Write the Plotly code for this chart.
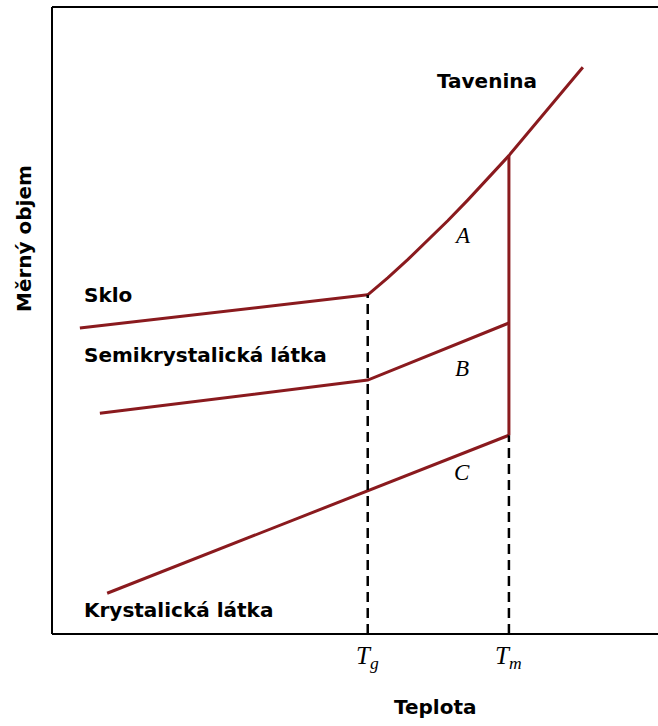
import plotly.graph_objects as go

# Specific volume vs. temperature for glass, semicrystalline and crystalline states
T_g = 52.1
T_m = 75.4

glass_T = [4.6, 52.1]
glass_V = [48.8, 54.1]

semi_T = [7.9, 52.1, 75.4]
semi_V = [35.2, 40.5, 49.6]

cryst_T = [9.1, 75.4]
cryst_V = [6.5, 31.7]

# supercooled liquid between Tg and Tm, then the melt above Tm
melt_T = [52.1, 55.4, 58.7, 62.0, 65.3, 68.6, 71.9, 75.4, 87.6]
melt_V = [54.1, 56.8, 59.7, 62.8, 65.9, 69.2, 72.6, 76.3, 90.4]

RED = "#8a1a1e"
LW = 3

fig = go.Figure()

def red_line(x, y):
    fig.add_trace(go.Scatter(x=x, y=y, mode="lines",
                             line=dict(color=RED, width=LW),
                             hoverinfo="skip", showlegend=False))

red_line(glass_T, glass_V)
red_line(semi_T, semi_V)
red_line(cryst_T, cryst_V)
red_line(melt_T, melt_V)
# melting step at Tm
red_line([T_m, T_m], [cryst_V[-1], melt_V[melt_T.index(T_m)]])

# dashed guides down to the temperature axis
for x, ytop in [(T_g, glass_V[-1]), (T_m, cryst_V[-1])]:
    fig.add_trace(go.Scatter(x=[x, x], y=[0, ytop], mode="lines",
                             line=dict(color="black", width=2.5, dash="10px,6px"),
                             hoverinfo="skip", showlegend=False))

# frame: left, top and bottom edges
for x0, y0, x1, y1 in [(0, 0, 0, 1), (0, 1, 1, 1), (0, 0, 1, 0)]:
    fig.add_shape(type="line", xref="paper", yref="paper",
                  x0=x0, y0=y0, x1=x1, y1=y1,
                  line=dict(color="black", width=2))

sans = dict(family="DejaVu Sans", size=20, color="black", weight="bold")
serif = dict(family="Liberation Serif", size=23, color="black")

labels = [
    ("Sklo", 4.95, 54.1),
    ("Semikrystalická látka", 4.95, 44.5),
    ("Krystalická látka", 4.95, 3.8),
    ("Tavenina", 63.2, 88.2),
]
for text, x, y in labels:
    fig.add_annotation(text=text, x=x, y=y, xref="x", yref="y",
                       xanchor="left", yanchor="middle", showarrow=False, font=sans)

regions = [("A", 67.8, 63.5), ("B", 67.7, 42.3), ("C", 67.7, 25.7)]
for text, x, y in regions:
    fig.add_annotation(text=f"<i>{text}</i>", x=x, y=y, xref="x", yref="y",
                       xanchor="center", yanchor="middle", showarrow=False, font=serif)

for sub, x in [("g", T_g), ("m", T_m)]:
    fig.add_annotation(text=f"<i>T<sub>{sub}</sub></i>", x=x, y=0, xref="x", yref="paper",
                       xanchor="center", yanchor="top", yshift=-6,
                       showarrow=False, font=dict(family="Liberation Serif", size=25, color="black"))

fig.add_annotation(text="Teplota", x=(435 - 52) / 606, y=0, xref="paper", yref="paper",
                   xanchor="center", yanchor="middle", yshift=-73,
                   showarrow=False, font=sans)
fig.add_annotation(text="Měrný objem", x=0, y=(634 - 239) / 627, xref="paper", yref="paper",
                   xanchor="center", yanchor="middle", xshift=-28, textangle=-90,
                   showarrow=False, font=sans)

fig.update_layout(
    width=658, height=726,
    margin=dict(l=52, r=0, t=7, b=92),
    paper_bgcolor="white", plot_bgcolor="white",
    xaxis=dict(range=[0, 100], visible=False, fixedrange=True),
    yaxis=dict(range=[0, 100], visible=False, fixedrange=True),
)

fig.write_html("out.html")
